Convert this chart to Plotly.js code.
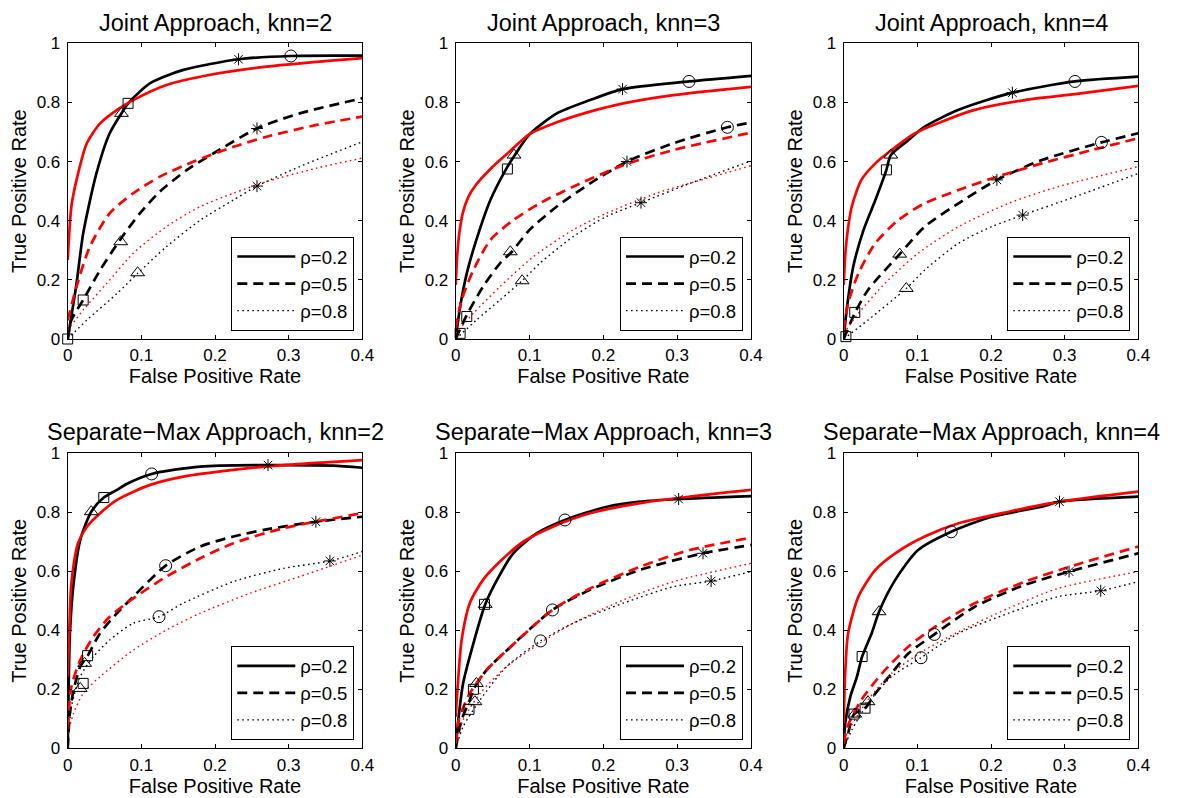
<!DOCTYPE html>
<html>
<head>
<meta charset="utf-8">
<script src="https://cdn.plot.ly/plotly-3.0.1.min.js"></script>
<style>html,body{margin:0;padding:0;background:#fff;}#chart{width:1181px;height:798px;}</style>
</head>
<body>
<div id="chart"></div>
<script>
// ---------- Panel titles / labels ----------
const panelTitles = ['Joint Approach, knn=2','Joint Approach, knn=3','Joint Approach, knn=4',
  'Separate\u2212Max Approach, knn=2','Separate\u2212Max Approach, knn=3','Separate\u2212Max Approach, knn=4'];
const legendNames = ['\u03c1=0.2','\u03c1=0.5','\u03c1=0.8'];
const xTickVals = [0, 0.1, 0.2, 0.3, 0.4];
const xTickText = ['0','0.1','0.2','0.3','0.4'];
const yTickVals = [0, 0.2, 0.4, 0.6, 0.8, 1];
const yTickText = ['0','0.2','0.4','0.6','0.8','1'];

// ---------- Panel 1: Joint, knn=2 ----------
const J2_k02_x = [0,0.012,0.021,0.039,0.057,0.076,0.082,0.112,0.157,0.232,0.303,0.4];
const J2_k02_y = [0,0.188,0.357,0.56,0.696,0.775,0.797,0.865,0.91,0.946,0.957,0.958];
const J2_r02_x = [0,0.005,0.012,0.026,0.044,0.067,0.089,0.134,0.18,0.27,0.4];
const J2_r02_y = [0.267,0.448,0.538,0.662,0.729,0.775,0.808,0.859,0.887,0.921,0.95];
const J2_k05_x = [0,0.005,0.021,0.044,0.071,0.098,0.125,0.162,0.202,0.257,0.315,0.4];
const J2_k05_y = [0,0.064,0.132,0.233,0.335,0.425,0.498,0.572,0.634,0.712,0.763,0.814];
const J2_r05_x = [0,0.012,0.03,0.057,0.089,0.125,0.171,0.225,0.27,0.338,0.4];
const J2_r05_y = [0.064,0.177,0.312,0.425,0.493,0.549,0.6,0.65,0.684,0.724,0.752];
const J2_k08_x = [0,0.026,0.067,0.095,0.134,0.18,0.225,0.257,0.315,0.4];
const J2_k08_y = [0,0.064,0.154,0.222,0.312,0.402,0.47,0.517,0.583,0.667];
const J2_r08_x = [0,0.021,0.053,0.089,0.134,0.18,0.225,0.27,0.338,0.4];
const J2_r08_y = [0.03,0.098,0.188,0.29,0.38,0.448,0.493,0.532,0.578,0.612];
const J2_sq_x = [0,0.021,0.082];       const J2_sq_y = [0,0.132,0.797];
const J2_tri_x = [0.073,0.072,0.095];  const J2_tri_y = [0.763,0.329,0.224];
const J2_star_x = [0.232,0.257,0.257]; const J2_star_y = [0.946,0.712,0.517];
const J2_circ_x = [0.303];             const J2_circ_y = [0.957];

// ---------- Panel 2: Joint, knn=3 ----------
const J3_k02_x = [0,0.006,0.015,0.028,0.047,0.069,0.079,0.1,0.137,0.182,0.226,0.316,0.4];
const J3_k02_y = [0,0.109,0.222,0.335,0.47,0.578,0.618,0.692,0.763,0.808,0.845,0.871,0.89];
const J3_r02_x = [0,0.002,0.005,0.01,0.017,0.027,0.047,0.069,0.1,0.137,0.182,0.227,0.295,0.4];
const J3_r02_y = [0.183,0.28,0.36,0.43,0.48,0.52,0.575,0.625,0.693,0.733,0.769,0.797,0.825,0.853];
const J3_k05_x = [0,0.015,0.037,0.06,0.076,0.1,0.137,0.182,0.232,0.295,0.368,0.4];
const J3_k05_y = [0,0.081,0.177,0.256,0.295,0.369,0.448,0.526,0.6,0.662,0.716,0.732];
const J3_r05_x = [0,0.008,0.024,0.047,0.078,0.114,0.159,0.227,0.295,0.4];
const J3_r05_y = [0.036,0.132,0.233,0.335,0.402,0.459,0.515,0.588,0.639,0.698];
const J3_k08_x = [0,0.028,0.06,0.09,0.114,0.159,0.204,0.251,0.317,0.4];
const J3_k08_y = [0,0.064,0.132,0.197,0.256,0.346,0.414,0.461,0.526,0.602];
const J3_r08_x = [0,0.024,0.06,0.105,0.159,0.204,0.272,0.34,0.4];
const J3_r08_y = [0.019,0.087,0.177,0.278,0.369,0.425,0.493,0.543,0.586];
const J3_sq_x = [0.006,0.015,0.07];    const J3_sq_y = [0.019,0.076,0.575];
const J3_tri_x = [0.079,0.074,0.09];   const J3_tri_y = [0.622,0.295,0.197];
const J3_star_x = [0.226,0.232,0.251]; const J3_star_y = [0.845,0.6,0.461];
const J3_circ_x = [0.316,0.368];       const J3_circ_y = [0.871,0.716];

// ---------- Panel 3: Joint, knn=4 ----------
const J4_k02_x = [0,0.004,0.013,0.027,0.043,0.058,0.064,0.088,0.11,0.156,0.229,0.314,0.4];
const J4_k02_y = [0,0.098,0.245,0.369,0.47,0.572,0.622,0.673,0.718,0.775,0.833,0.871,0.887];
const J4_r02_x = [0,0.003,0.011,0.024,0.043,0.065,0.097,0.133,0.178,0.246,0.314,0.4];
const J4_r02_y = [0.183,0.312,0.448,0.538,0.594,0.639,0.696,0.735,0.775,0.808,0.828,0.856];
const J4_k05_x = [0,0.015,0.033,0.076,0.11,0.156,0.208,0.269,0.35,0.4];
const J4_k05_y = [0,0.087,0.166,0.287,0.38,0.459,0.538,0.605,0.665,0.696];
const J4_r05_x = [0,0.006,0.02,0.043,0.074,0.11,0.156,0.201,0.269,0.337,0.4];
const J4_r05_y = [0.03,0.121,0.222,0.324,0.402,0.459,0.504,0.543,0.594,0.639,0.679];
const J4_k08_x = [0,0.033,0.085,0.11,0.156,0.201,0.243,0.314,0.4];
const J4_k08_y = [0,0.064,0.171,0.233,0.324,0.38,0.419,0.481,0.56];
const J4_r08_x = [0,0.02,0.056,0.101,0.156,0.224,0.291,0.4];
const J4_r08_y = [0.019,0.087,0.188,0.29,0.38,0.459,0.515,0.583];
const J4_sq_x = [0.003,0.015,0.058];   const J4_sq_y = [0.008,0.09,0.572];
const J4_tri_x = [0.064,0.076,0.085];  const J4_tri_y = [0.622,0.287,0.171];
const J4_star_x = [0.229,0.208,0.243]; const J4_star_y = [0.833,0.538,0.419];
const J4_circ_x = [0.314,0.35];        const J4_circ_y = [0.871,0.665];

// ---------- Panel 4: Separate-Max, knn=2 ----------
const S2_k02_x = [0,0.001,0.003,0.008,0.017,0.032,0.049,0.067,0.08,0.114,0.18,0.272,0.36,0.4];
const S2_k02_y = [0,0.164,0.39,0.559,0.706,0.802,0.85,0.876,0.896,0.93,0.955,0.96,0.958,0.951];
const S2_r02_x = [0,0.002,0.005,0.014,0.026,0.044,0.067,0.112,0.157,0.225,0.293,0.4];
const S2_r02_y = [0.243,0.39,0.559,0.695,0.751,0.797,0.842,0.893,0.921,0.944,0.96,0.977];
const S2_k05_x = [0,0.003,0.008,0.017,0.027,0.044,0.067,0.089,0.133,0.18,0.225,0.27,0.337,0.4];
const S2_k05_y = [0,0.119,0.198,0.277,0.314,0.39,0.458,0.514,0.619,0.684,0.718,0.742,0.768,0.785];
const S2_r05_x = [0,0.005,0.017,0.035,0.057,0.089,0.134,0.18,0.225,0.293,0.4];
const S2_r05_y = [0.073,0.209,0.299,0.379,0.446,0.508,0.582,0.644,0.695,0.746,0.797];
const S2_k08_x = [0,0.005,0.017,0.035,0.057,0.089,0.124,0.157,0.225,0.293,0.356,0.4];
const S2_k08_y = [0,0.141,0.243,0.311,0.367,0.424,0.446,0.492,0.565,0.61,0.635,0.667];
const S2_r08_x = [0,0.008,0.021,0.044,0.089,0.134,0.18,0.247,0.315,0.4];
const S2_r08_y = [0.05,0.119,0.186,0.243,0.333,0.401,0.458,0.525,0.582,0.655];
const S2_sq_x = [0.049,0.027,0.021];   const S2_sq_y = [0.85,0.314,0.22];
const S2_tri_x = [0.032,0.023,0.017];  const S2_tri_y = [0.802,0.288,0.203];
const S2_star_x = [0.272,0.337,0.356]; const S2_star_y = [0.96,0.768,0.635];
const S2_circ_x = [0.114,0.133,0.124]; const S2_circ_y = [0.93,0.619,0.446];

// ---------- Panel 5: Separate-Max, knn=3 ----------
const S3_k02_x = [0,0.004,0.01,0.024,0.04,0.056,0.078,0.11,0.148,0.205,0.25,0.302,0.4];
const S3_k02_y = [0,0.107,0.22,0.356,0.488,0.571,0.661,0.729,0.774,0.819,0.836,0.845,0.855];
const S3_r02_x = [0,0.003,0.008,0.019,0.037,0.06,0.092,0.137,0.182,0.25,0.317,0.4];
const S3_r02_y = [0.107,0.22,0.367,0.492,0.571,0.633,0.701,0.757,0.797,0.831,0.853,0.876];
const S3_k05_x = [0,0.008,0.019,0.025,0.042,0.065,0.131,0.182,0.25,0.335,0.4];
const S3_k05_y = [0,0.096,0.164,0.203,0.266,0.322,0.469,0.537,0.605,0.661,0.689];
const S3_r05_x = [0,0.004,0.019,0.042,0.065,0.131,0.182,0.25,0.317,0.4];
const S3_r05_y = [0.017,0.096,0.186,0.266,0.322,0.469,0.542,0.616,0.672,0.714];
const S3_k08_x = [0,0.01,0.033,0.069,0.115,0.159,0.227,0.295,0.346,0.4];
const S3_k08_y = [0,0.073,0.164,0.277,0.364,0.424,0.492,0.548,0.567,0.599];
const S3_r08_x = [0,0.01,0.033,0.069,0.114,0.159,0.227,0.295,0.4];
const S3_r08_y = [0.017,0.096,0.186,0.277,0.356,0.424,0.503,0.565,0.627];
const S3_sq_x = [0.039,0.024,0.018];   const S3_sq_y = [0.488,0.2,0.132];
const S3_tri_x = [0.04,0.028,0.026];   const S3_tri_y = [0.488,0.22,0.158];
const S3_star_x = [0.302,0.335,0.346]; const S3_star_y = [0.845,0.661,0.567];
const S3_circ_x = [0.148,0.131,0.115]; const S3_circ_y = [0.774,0.469,0.364];

// ---------- Panel 6: Separate-Max, knn=4 ----------
const S4_k02_x = [0,0.002,0.009,0.018,0.025,0.038,0.048,0.07,0.101,0.146,0.201,0.269,0.293,0.4];
const S4_k02_y = [0,0.085,0.175,0.243,0.311,0.39,0.463,0.571,0.672,0.734,0.785,0.819,0.836,0.853];
const S4_r02_x = [0,0.002,0.006,0.02,0.043,0.07,0.11,0.156,0.224,0.293,0.4];
const S4_r02_y = [0.085,0.254,0.39,0.514,0.605,0.661,0.718,0.763,0.802,0.836,0.87];
const S4_k05_x = [0,0.006,0.014,0.029,0.043,0.065,0.088,0.123,0.178,0.246,0.306,0.4];
const S4_k05_y = [0,0.051,0.116,0.136,0.186,0.254,0.322,0.386,0.48,0.554,0.599,0.661];
const S4_r05_x = [0,0.006,0.024,0.052,0.088,0.124,0.178,0.246,0.314,0.4];
const S4_r05_y = [0.017,0.079,0.164,0.254,0.345,0.412,0.492,0.565,0.621,0.684];
const S4_k08_x = [0,0.011,0.033,0.065,0.105,0.156,0.224,0.291,0.349,0.4];
const S4_k08_y = [0,0.062,0.153,0.243,0.307,0.39,0.458,0.514,0.534,0.565];
const S4_r08_x = [0,0.011,0.033,0.065,0.11,0.156,0.224,0.291,0.4];
const S4_r08_y = [0.017,0.079,0.164,0.254,0.333,0.395,0.475,0.542,0.599];
const S4_sq_x = [0.025,0.029,0.014];   const S4_sq_y = [0.311,0.136,0.116];
const S4_tri_x = [0.048,0.033,0.015];  const S4_tri_y = [0.463,0.158,0.116];
const S4_star_x = [0.293,0.306,0.349]; const S4_star_y = [0.836,0.599,0.534];
const S4_circ_x = [0.146,0.123,0.105]; const S4_circ_y = [0.734,0.386,0.307];

// ---------- Build ----------
const panels = [
  {k:[[J2_k02_x,J2_k02_y],[J2_k05_x,J2_k05_y],[J2_k08_x,J2_k08_y]], r:[[J2_r02_x,J2_r02_y],[J2_r05_x,J2_r05_y],[J2_r08_x,J2_r08_y]],
   m:[[J2_sq_x,J2_sq_y],[J2_tri_x,J2_tri_y],[J2_star_x,J2_star_y],[J2_circ_x,J2_circ_y]]},
  {k:[[J3_k02_x,J3_k02_y],[J3_k05_x,J3_k05_y],[J3_k08_x,J3_k08_y]], r:[[J3_r02_x,J3_r02_y],[J3_r05_x,J3_r05_y],[J3_r08_x,J3_r08_y]],
   m:[[J3_sq_x,J3_sq_y],[J3_tri_x,J3_tri_y],[J3_star_x,J3_star_y],[J3_circ_x,J3_circ_y]]},
  {k:[[J4_k02_x,J4_k02_y],[J4_k05_x,J4_k05_y],[J4_k08_x,J4_k08_y]], r:[[J4_r02_x,J4_r02_y],[J4_r05_x,J4_r05_y],[J4_r08_x,J4_r08_y]],
   m:[[J4_sq_x,J4_sq_y],[J4_tri_x,J4_tri_y],[J4_star_x,J4_star_y],[J4_circ_x,J4_circ_y]]},
  {k:[[S2_k02_x,S2_k02_y],[S2_k05_x,S2_k05_y],[S2_k08_x,S2_k08_y]], r:[[S2_r02_x,S2_r02_y],[S2_r05_x,S2_r05_y],[S2_r08_x,S2_r08_y]],
   m:[[S2_sq_x,S2_sq_y],[S2_tri_x,S2_tri_y],[S2_star_x,S2_star_y],[S2_circ_x,S2_circ_y]]},
  {k:[[S3_k02_x,S3_k02_y],[S3_k05_x,S3_k05_y],[S3_k08_x,S3_k08_y]], r:[[S3_r02_x,S3_r02_y],[S3_r05_x,S3_r05_y],[S3_r08_x,S3_r08_y]],
   m:[[S3_sq_x,S3_sq_y],[S3_tri_x,S3_tri_y],[S3_star_x,S3_star_y],[S3_circ_x,S3_circ_y]]},
  {k:[[S4_k02_x,S4_k02_y],[S4_k05_x,S4_k05_y],[S4_k08_x,S4_k08_y]], r:[[S4_r02_x,S4_r02_y],[S4_r05_x,S4_r05_y],[S4_r08_x,S4_r08_y]],
   m:[[S4_sq_x,S4_sq_y],[S4_tri_x,S4_tri_y],[S4_star_x,S4_star_y],[S4_circ_x,S4_circ_y]]}
];

const W = 1181, H = 798;
const FONT = 'Liberation Sans, Arial, Helvetica, sans-serif';
const colL = [67.7, 455.7, 843.7], colR = [362.3, 751.0, 1138.3];
const rowT = [43.3, 453.3], rowB = [339.0, 748.3];
const titleY = [23, 432];

const styles = [
  {width: 2.7, dash: 'solid'},
  {width: 2.7, dash: '10px,6px'},
  {width: 1.4, dash: '1.6px,3.4px'}
];
const markerSymbols = ['square-open','triangle-up-open','asterisk-open','circle-open'];
const markerSizes = [10, 12, 10, 12];

const data = [];
const layout = {
  width: W, height: H,
  margin: {l:0, r:0, t:0, b:0},
  paper_bgcolor: '#fff', plot_bgcolor: '#fff',
  font: {family: FONT, color: '#000'},
  annotations: [],
  showlegend: true
};

panels.forEach((p, i) => {
  const row = Math.floor(i / 3), col = i % 3;
  const sfx = i === 0 ? '' : String(i + 1);
  const xa = 'x' + sfx, ya = 'y' + sfx;
  const legName = 'legend' + sfx;
  const dx = [colL[col] / W, colR[col] / W];
  const dy = [1 - rowB[row] / H, 1 - rowT[row] / H];

  p.k.forEach((c, j) => {
    data.push({type:'scatter', mode:'lines', x:c[0], y:c[1], xaxis:xa, yaxis:ya,
      name: legendNames[j], legend: legName, legendgroup: 'g' + i + '_' + j,
      line:{color:'#000', width:styles[j].width, dash:styles[j].dash, shape:'spline', smoothing:0.7},
      hoverinfo:'skip'});
  });
  p.r.forEach((c, j) => {
    data.push({type:'scatter', mode:'lines', x:c[0], y:c[1], xaxis:xa, yaxis:ya,
      showlegend:false, legend: legName,
      line:{color:'#ff0000', width:styles[j].width, dash:styles[j].dash, shape:'spline', smoothing:0.7},
      hoverinfo:'skip'});
  });
  p.m.forEach((c, j) => {
    data.push({type:'scatter', mode:'markers', x:c[0], y:c[1], xaxis:xa, yaxis:ya,
      showlegend:false, legend: legName, cliponaxis:false,
      marker:{symbol:markerSymbols[j], size:markerSizes[j], color:'#000', line:{color:'#000', width:1}},
      hoverinfo:'skip'});
  });

  const axCommon = {
    showgrid:false, zeroline:false, showline:true, linecolor:'#000', linewidth:1,
    mirror:'ticks', ticks:'inside', ticklen:4, tickwidth:1, tickcolor:'#000',
    tickfont:{size:17, family:FONT, color:'#000'}, fixedrange:true
  };
  layout['xaxis' + sfx] = Object.assign({}, axCommon, {
    domain: dx, anchor: ya, range:[0, 0.4], tickvals:xTickVals, ticktext:xTickText,
    ticklabelstandoff: 1,
    title:{text:'False Positive Rate', font:{size:20, family:FONT, color:'#000'}, standoff:2}
  });
  layout['yaxis' + sfx] = Object.assign({}, axCommon, {
    domain: dy, anchor: xa, range:[0, 1], tickvals:yTickVals, ticktext:yTickText,
    ticklabelstandoff: 3,
    title:{text:'True Positive Rate', font:{size:20, family:FONT, color:'#000'}, standoff:4}
  });
  layout[legName] = {
    x: (colR[col] - 8) / W, xanchor:'right',
    y: 1 - (rowB[row] - 8) / H, yanchor:'bottom',
    bgcolor:'#fff', bordercolor:'#000', borderwidth:1,
    font:{size:18.5, family:FONT, color:'#000'},
    tracegroupgap: 0, itemwidth: 58, traceorder:'grouped'
  };
  layout.annotations.push({
    xref:'paper', yref:'paper', x:(dx[0] + dx[1]) / 2, y: 1 - titleY[row] / H,
    xanchor:'center', yanchor:'middle', showarrow:false,
    text: panelTitles[i], font:{size:23.5, family:FONT, color:'#000'}
  });
});

Plotly.newPlot('chart', data, layout, {staticPlot:true, displayModeBar:false});
</script>
</body>
</html>
